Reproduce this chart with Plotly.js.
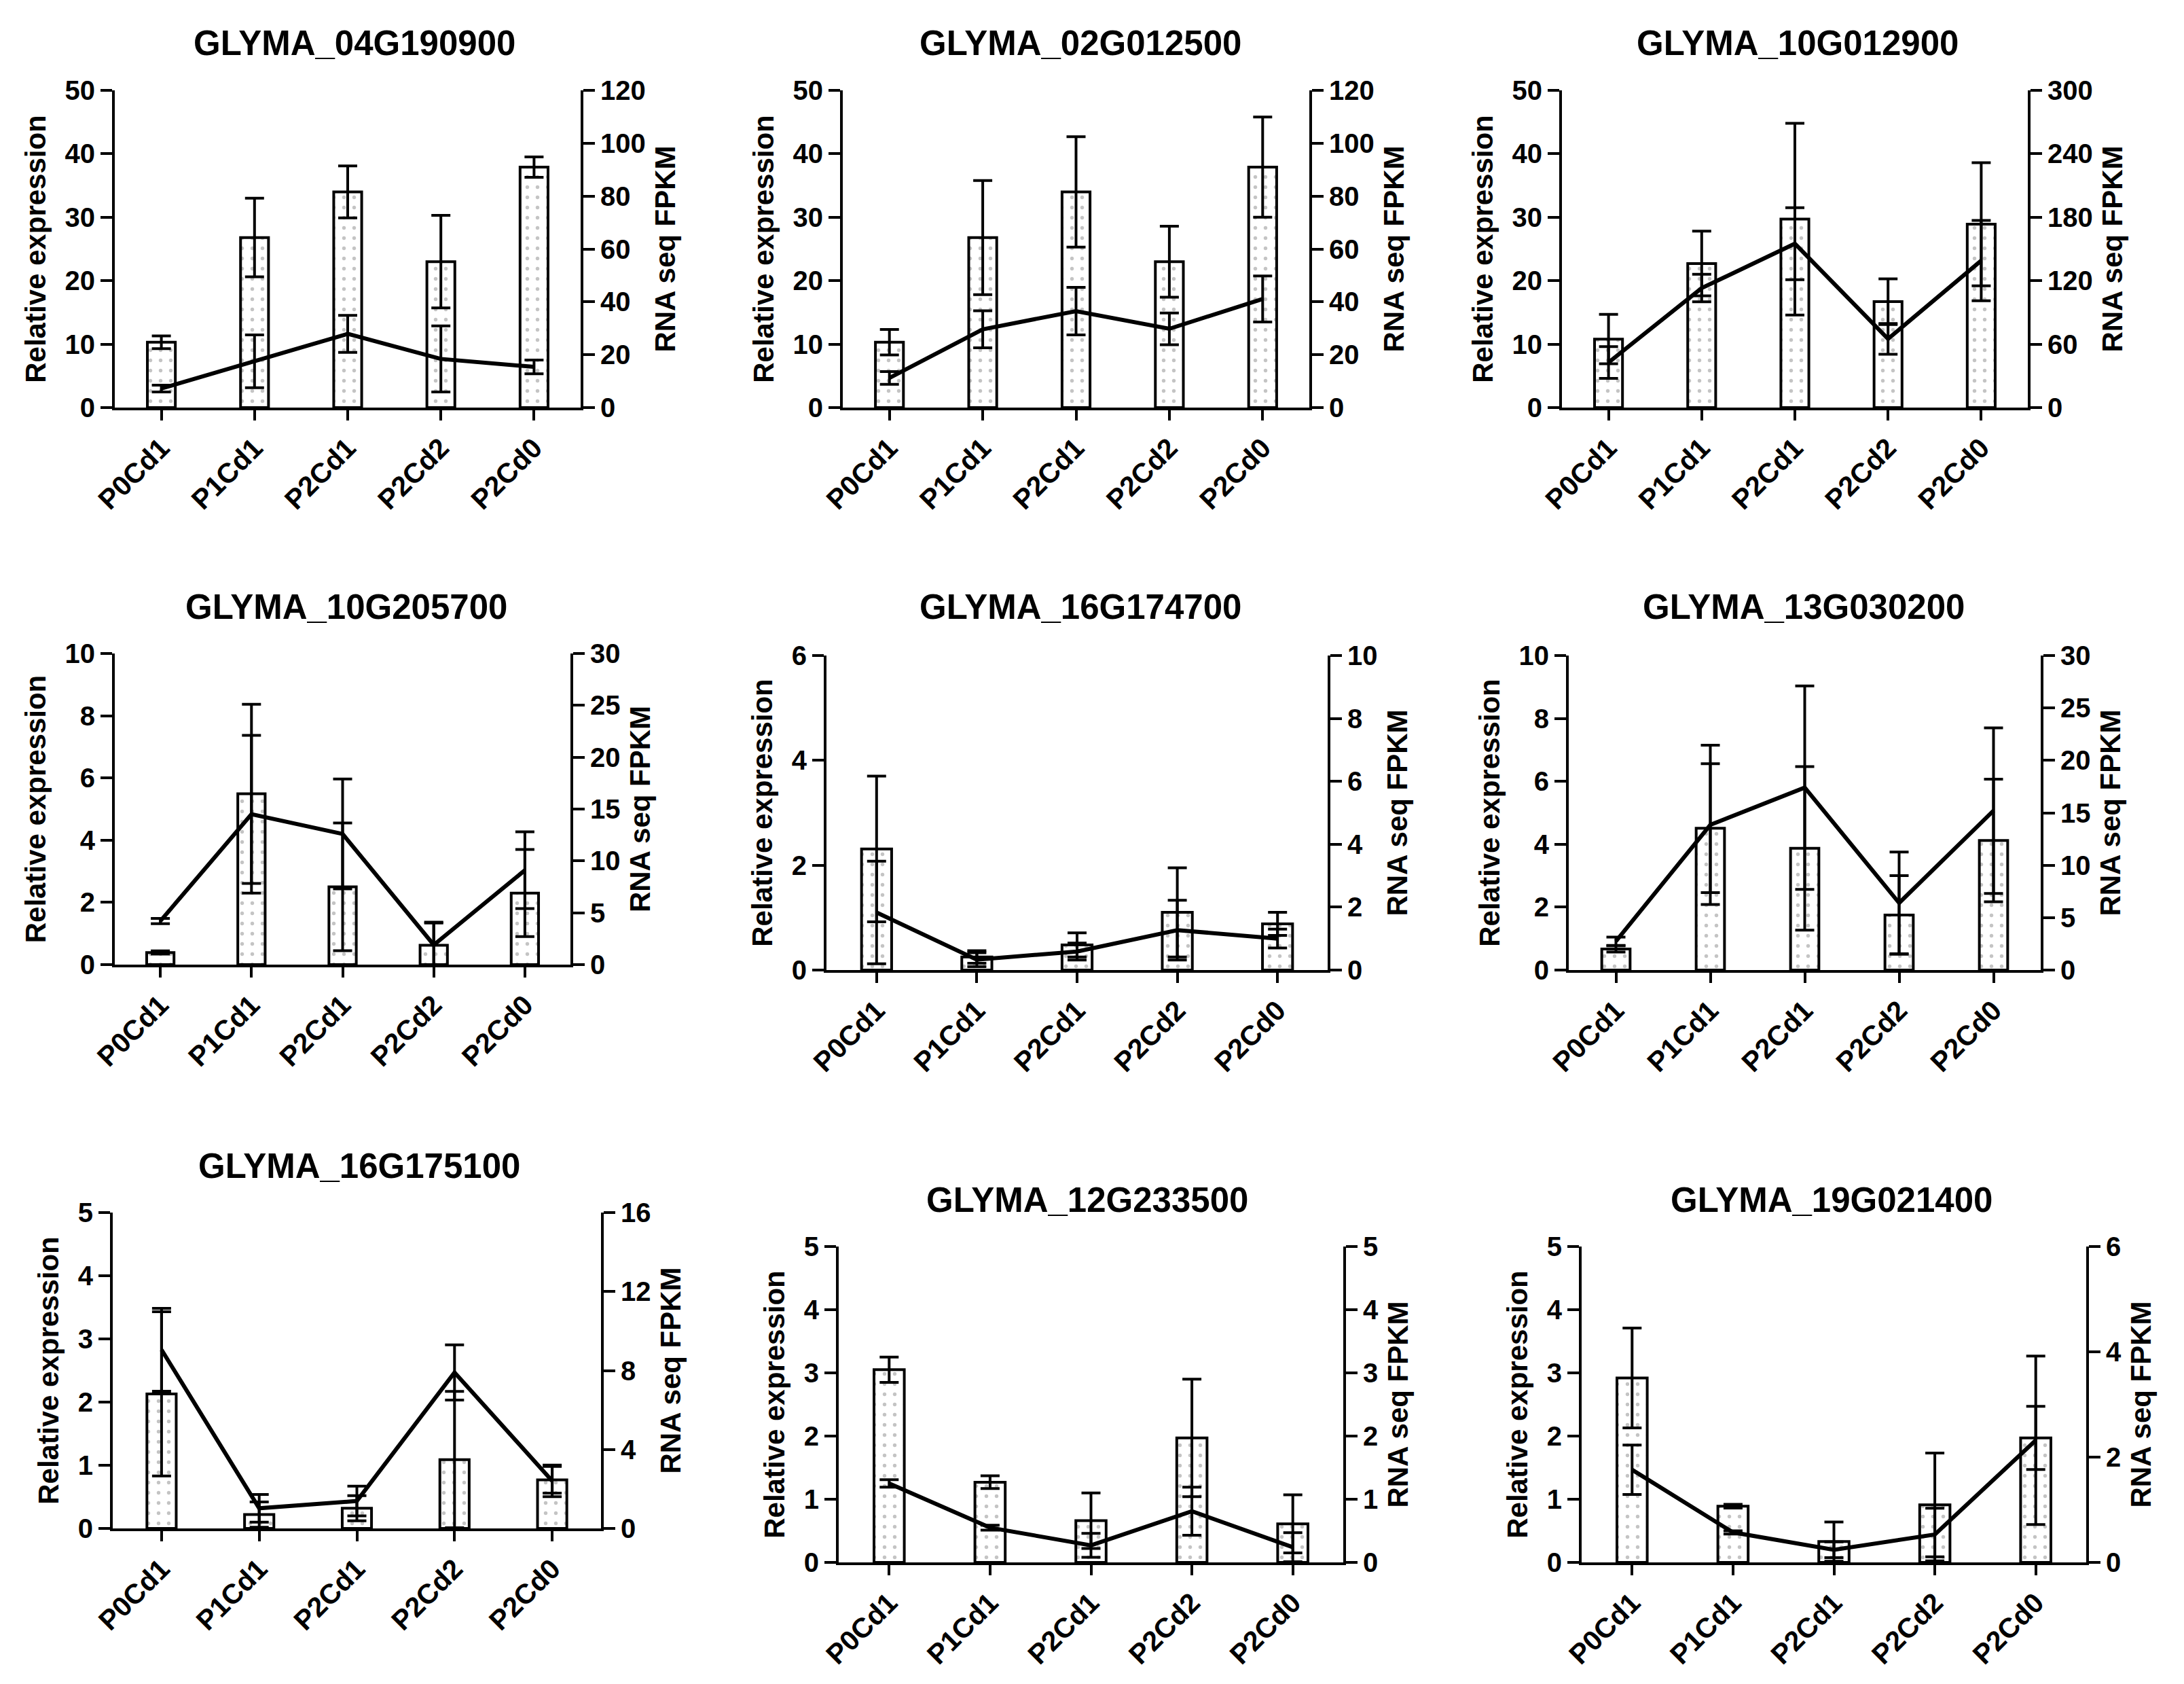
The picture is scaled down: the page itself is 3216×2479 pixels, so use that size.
<!DOCTYPE html>
<html>
<head>
<meta charset="utf-8">
<script src="https://cdn.plot.ly/plotly-3.0.1.min.js"></script>
<style>html,body{margin:0;padding:0;background:#fff;}#chart{width:3216px;height:2479px;}</style>
</head>
<body>
<div id="chart"></div>
<script>
// ---------- data ----------
const categories = ['P0Cd1', 'P1Cd1', 'P2Cd1', 'P2Cd2', 'P2Cd0'];
const geneNames = ['GLYMA_04G190900', 'GLYMA_02G012500', 'GLYMA_10G012900',
                   'GLYMA_10G205700', 'GLYMA_16G174700', 'GLYMA_13G030200',
                   'GLYMA_16G175100', 'GLYMA_12G233500', 'GLYMA_19G021400'];

// relative expression (bars, left axis) and its error
const rel_04G190900 = [10.3, 26.8, 34.0, 23.0, 37.9];
const relErr_04G190900 = [1.0, 6.2, 4.1, 7.3, 1.6];
const rel_02G012500 = [10.3, 26.8, 34.0, 23.0, 37.9];
const relErr_02G012500 = [2.0, 9.0, 8.7, 5.6, 7.9];
const rel_10G012900 = [10.8, 22.7, 29.7, 16.7, 28.9];
const relErr_10G012900 = [3.9, 5.1, 15.1, 3.6, 9.7];
const rel_10G205700 = [0.39, 5.49, 2.5, 0.62, 2.3];
const relErr_10G205700 = [0.05, 2.88, 2.05, 0.72, 1.4];
const rel_16G174700 = [2.31, 0.25, 0.48, 1.1, 0.88];
const relErr_16G174700 = [1.39, 0.12, 0.23, 0.85, 0.22];
const rel_13G030200 = [0.67, 4.51, 3.87, 1.75, 4.12];
const relErr_13G030200 = [0.1, 2.05, 2.6, 1.25, 1.95];
const rel_16G175100 = [2.13, 0.22, 0.32, 1.09, 0.77];
const relErr_16G175100 = [1.3, 0.2, 0.2, 1.08, 0.21];
const rel_12G233500 = [3.05, 1.27, 0.66, 1.97, 0.61];
const relErr_12G233500 = [0.2, 0.1, 0.44, 0.93, 0.46];
const rel_19G021400 = [2.92, 0.89, 0.33, 0.91, 1.97];
const relErr_19G021400 = [0.79, 0.03, 0.31, 0.82, 0.5];

// RNA seq FPKM (line, right axis) and its error
const fpkm_04G190900 = [7.2, 17.5, 27.9, 18.4, 15.4];
const fpkmErr_04G190900 = [1.3, 10, 7, 12.5, 2.6];
const fpkm_02G012500 = [11.2, 29.6, 36.5, 29.8, 41.1];
const fpkmErr_02G012500 = [2.4, 7.0, 9.0, 6.0, 8.7];
const fpkm_10G012900 = [42.7, 113, 155, 65, 139];
const fpkmErr_10G012900 = [15, 13, 34, 14.5, 38];
const fpkm_10G205700 = [4.2, 14.5, 12.6, 1.9, 9.1];
const fpkmErr_10G205700 = [0.25, 7.6, 5.3, 2.2, 3.7];
const fpkm_16G174700 = [1.83, 0.33, 0.59, 1.27, 1.0];
const fpkmErr_16G174700 = [1.63, 0.22, 0.27, 0.95, 0.3];
const fpkm_13G030200 = [2.75, 13.85, 17.4, 6.4, 15.2];
const fpkmErr_13G030200 = [0.4, 7.6, 9.7, 4.85, 7.9];
const fpkm_16G175100 = [9.05, 1.02, 1.39, 7.9, 2.41];
const fpkmErr_16G175100 = [2.1, 0.7, 0.75, 1.4, 0.8];
const fpkm_12G233500 = [1.25, 0.55, 0.27, 0.81, 0.24];
const fpkmErr_12G233500 = [0.06, 0.04, 0.19, 0.38, 0.23];
const fpkm_19G021400 = [1.76, 0.57, 0.24, 0.53, 2.32];
const fpkmErr_19G021400 = [0.47, 0.03, 0.15, 0.5, 1.6];

// axis scales: [max, dtick]
const leftScale = [[50, 10], [50, 10], [50, 10], [10, 2], [6, 2], [10, 2], [5, 1], [5, 1], [5, 1]];
const rightScale = [[120, 20], [120, 20], [300, 60], [30, 5], [10, 2], [30, 5], [16, 4], [5, 1], [6, 2]];

const relSeries = [rel_04G190900, rel_02G012500, rel_10G012900, rel_10G205700, rel_16G174700,
                   rel_13G030200, rel_16G175100, rel_12G233500, rel_19G021400];
const relErrSeries = [relErr_04G190900, relErr_02G012500, relErr_10G012900, relErr_10G205700, relErr_16G174700,
                      relErr_13G030200, relErr_16G175100, relErr_12G233500, relErr_19G021400];
const fpkmSeries = [fpkm_04G190900, fpkm_02G012500, fpkm_10G012900, fpkm_10G205700, fpkm_16G174700,
                    fpkm_13G030200, fpkm_16G175100, fpkm_12G233500, fpkm_19G021400];
const fpkmErrSeries = [fpkmErr_04G190900, fpkmErr_02G012500, fpkmErr_10G012900, fpkmErr_10G205700, fpkmErr_16G174700,
                       fpkmErr_13G030200, fpkmErr_16G175100, fpkmErr_12G233500, fpkmErr_19G021400];

// ---------- layout geometry (pixels) ----------
const W = 3216, H = 2479;
// [left, right, top, bottom] of each plot area
const boxes = [
  [169, 855, 133, 600], [1241, 1928, 133, 600], [2300, 2986, 133, 600],
  [169, 840, 962, 1420], [1217, 1955, 965, 1428], [2310, 3005, 965, 1428],
  [166, 885, 1785, 2250], [1235, 1978, 1835, 2300], [2329, 3072, 1835, 2300]
];
// title centre [x, y]
const titlePos = [
  [522, 63], [1591, 63], [2647, 63],
  [510, 893], [1591, 893], [2656, 893],
  [529, 1716], [1601, 1766], [2697, 1766]
];

const FONT = 'Liberation Sans, Arial, Helvetica, sans-serif';
const traces = [];
const layout = {
  width: W, height: H,
  margin: {l: 0, r: 0, t: 0, b: 0, pad: 0},
  paper_bgcolor: 'white', plot_bgcolor: 'rgba(0,0,0,0)',
  showlegend: false,
  font: {family: FONT, color: 'black'},
  annotations: []
};

function axisCommon() {
  return {
    showline: true, linewidth: 4, linecolor: 'black',
    ticks: 'outside', ticklen: 17, tickwidth: 4, tickcolor: 'black',
    showgrid: false, zeroline: false, fixedrange: true,
    tickfont: {family: FONT, size: 40, color: 'black', weight: 'bold'}
  };
}

for (let i = 0; i < 9; i++) {
  const n = i + 1;
  const xs = n === 1 ? '' : String(n);
  const yl = n === 1 ? '' : String(n);
  const yr = String(n + 9);
  const [L, R, T, B] = boxes[i];

  traces.push({
    type: 'bar', x: categories, y: relSeries[i],
    xaxis: 'x' + xs, yaxis: 'y' + yl,
    width: 0.3,
    marker: {
      color: 'white',
      line: {color: 'black', width: 4},
      pattern: {shape: '.', fgcolor: '#c4c4c4', bgcolor: 'white', size: 15, solidity: 0.1}
    },
    error_y: {type: 'data', array: relErrSeries[i], visible: true, color: 'black', thickness: 4, width: 14},
    hoverinfo: 'skip'
  });
  traces.push({
    type: 'scatter', mode: 'lines', x: categories, y: fpkmSeries[i],
    xaxis: 'x' + xs, yaxis: 'y' + yr,
    line: {color: 'black', width: 6},
    error_y: {type: 'data', array: fpkmErrSeries[i], visible: true, color: 'black', thickness: 4, width: 14},
    hoverinfo: 'skip'
  });

  const xa = axisCommon();
  Object.assign(xa, {
    domain: [L / W, R / W], anchor: 'y' + yl,
    type: 'category', range: [-0.5, 4.5],
    tickangle: -45, ticklen: 15,
    tickfont: {family: FONT, size: 41, color: 'black', weight: 'bold'}
  });
  layout['xaxis' + xs] = xa;

  const ya = axisCommon();
  Object.assign(ya, {
    domain: [1 - B / H, 1 - T / H], anchor: 'x' + xs,
    range: [0, leftScale[i][0]], dtick: leftScale[i][1], tick0: 0,
    title: {text: 'Relative expression', standoff: 16,
            font: {family: FONT, size: 42, color: 'black', weight: 'bold'}}
  });
  layout['yaxis' + yl] = ya;

  const yb = axisCommon();
  Object.assign(yb, {
    overlaying: 'y' + yl, side: 'right', anchor: 'x' + xs,
    range: [0, rightScale[i][0]], dtick: rightScale[i][1], tick0: 0,
    title: {text: 'RNA seq FPKM', standoff: 16,
            font: {family: FONT, size: 42, color: 'black', weight: 'bold'}}
  });
  layout['yaxis' + yr] = yb;

  layout.annotations.push({
    text: geneNames[i], showarrow: false,
    xref: 'paper', yref: 'paper',
    x: titlePos[i][0] / W, y: 1 - titlePos[i][1] / H,
    xanchor: 'center', yanchor: 'middle',
    font: {family: FONT, size: 51, color: 'black', weight: 'bold'}
  });
}

Plotly.newPlot('chart', traces, layout, {staticPlot: true, displayModeBar: false});
</script>
</body>
</html>
